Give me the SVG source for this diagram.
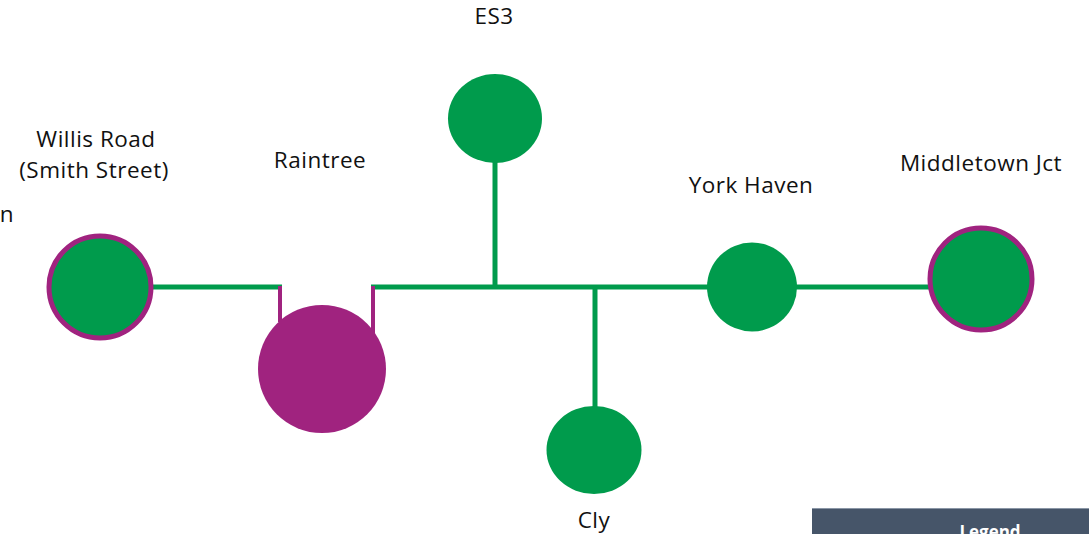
<svg xmlns="http://www.w3.org/2000/svg" width="1089" height="534" viewBox="0 0 1089 534">
<style>
.lbl{font-family:"Open Sans","Liberation Sans",sans-serif;font-size:22.5px;letter-spacing:0.5px;fill:#111;text-anchor:middle}
.g{fill:#009b4c}
.gp{fill:#009b4c;stroke:#a0237f;stroke-width:5}
.p{fill:#a0237f}
.ln{stroke:#009b4c;stroke-width:5;fill:none}
.lp{stroke:#a0237f;stroke-width:4;fill:none}
</style>
<rect width="1089" height="534" fill="#fff"/>
<g id="connectors">
<line class="ln" x1="150" y1="287" x2="282" y2="287"/>
<line class="ln" x1="371" y1="287" x2="930" y2="287"/>
<line class="ln" x1="495" y1="160" x2="495" y2="287"/>
<line class="ln" x1="595" y1="287" x2="595" y2="410"/>
<line class="lp" x1="280" y1="286" x2="280" y2="322"/>
<line class="lp" x1="373" y1="286" x2="373" y2="335"/>
</g>
<g id="willis-road">
<circle class="gp" cx="100" cy="287" r="51"/>
<text class="lbl" x="96" y="147">Willis Road</text>
<text class="lbl" x="94" y="178">(Smith Street)</text>
</g>
<g id="raintree">
<circle class="p" cx="322" cy="369" r="64"/>
<text class="lbl" x="320" y="168">Raintree</text>
</g>
<g id="es3">
<ellipse class="g" cx="495" cy="118.5" rx="47" ry="44.5"/>
<text class="lbl" x="494" y="24">ES3</text>
</g>
<g id="cly">
<ellipse class="g" cx="594" cy="450" rx="47.5" ry="44"/>
<text class="lbl" x="594" y="528">Cly</text>
</g>
<g id="york-haven">
<ellipse class="g" cx="752" cy="287" rx="45" ry="44.5"/>
<text class="lbl" x="751" y="193">York Haven</text>
</g>
<g id="middletown-jct">
<circle class="gp" cx="981" cy="279" r="51"/>
<text class="lbl" x="981" y="171">Middletown Jct</text>
</g>
<text class="lbl" x="7" y="222">n</text>
<g id="legend">
<rect x="812" y="508" width="277" height="26" fill="#465569"/>
<line x1="812" y1="508.5" x2="1089" y2="508.5" stroke="#8a96a6" stroke-width="1"/>
<text x="990" y="538" font-family="'Open Sans','Liberation Sans',sans-serif" font-size="17" font-weight="bold" fill="#fff" text-anchor="middle">Legend</text>
</g>
</svg>
